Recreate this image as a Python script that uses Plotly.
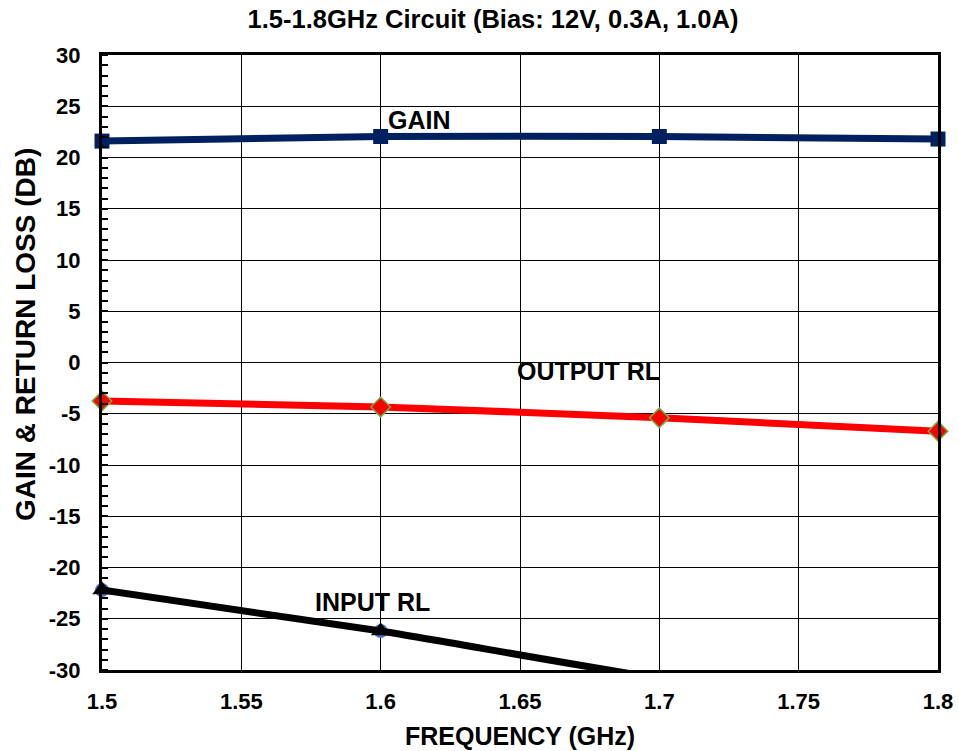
import plotly.graph_objects as go

freq = [1.5, 1.6, 1.7, 1.8]
gain = [21.6, 22.05, 22.05, 21.8]
output_rl = [-3.75, -4.35, -5.4, -6.7]
input_rl = [-22.2, -26.2, -30.8, -33.8]

title = "1.5-1.8GHz Circuit (Bias: 12V, 0.3A, 1.0A)"
x_title = "FREQUENCY (GHz)"
y_title = "GAIN & RETURN LOSS (DB)"
x_ticks = [1.5, 1.55, 1.6, 1.65, 1.7, 1.75, 1.8]
x_tick_text = ["1.5", "1.55", "1.6", "1.65", "1.7", "1.75", "1.8"]
y_ticks = [30, 25, 20, 15, 10, 5, 0, -5, -10, -15, -20, -25, -30]
y_tick_text = ["30", "25", "20", "15", "10", "5", "0", "-5", "-10", "-15", "-20", "-25", "-30"]

FONT = "Arial, Liberation Sans, sans-serif"
W, H = 959, 751
L, R, T, B = 102, 21, 55, 81
PW, PH = W - L - R, H - T - B
Y_MIN, Y_MAX = -30, 30

# markers only shown where the point lies inside the axis range
in_range = [1 if Y_MIN <= v <= Y_MAX else 0 for v in input_rl]

fig = go.Figure()

fig.add_trace(go.Scatter(
    x=freq, y=input_rl, mode="markers", name="INPUT RL (S11)",
    marker=dict(symbol="circle", size=14, color="#4472C4", opacity=in_range),
    cliponaxis=False, showlegend=False))
fig.add_trace(go.Scatter(
    x=freq, y=input_rl, mode="lines", name="INPUT RL",
    line=dict(color="black", width=7, shape="spline", smoothing=0.5),
    showlegend=False))
fig.add_trace(go.Scatter(
    x=freq, y=input_rl, mode="markers", name="INPUT RL markers",
    marker=dict(symbol="triangle-up", size=17, color="black", opacity=in_range),
    cliponaxis=False, showlegend=False))
fig.add_trace(go.Scatter(
    x=freq, y=output_rl, mode="lines+markers", name="OUTPUT RL",
    line=dict(color="#FF0000", width=7, shape="spline", smoothing=0.5),
    marker=dict(symbol="diamond", size=15, color="#FF0000",
                line=dict(color="#70AD47", width=1.5)),
    cliponaxis=False, showlegend=False))
fig.add_trace(go.Scatter(
    x=freq, y=gain, mode="lines+markers", name="GAIN",
    line=dict(color="#002060", width=7, shape="spline", smoothing=0.5),
    marker=dict(symbol="square", size=15, color="#002060"),
    cliponaxis=False, showlegend=False))

label_pos = {"GAIN": (1.6019, 23.66), "OUTPUT RL": (1.6482, -0.83), "INPUT RL": (1.5757, -23.37)}
for name, (lx, ly) in label_pos.items():
    fig.add_annotation(x=lx, y=ly, text="<b>%s</b>" % name, showarrow=False,
                       xanchor="left", yanchor="middle",
                       font=dict(family=FONT, size=25, color="black"))

# axis titles
fig.add_annotation(xref="paper", yref="paper", x=(520 - L) / PW, y=-(736 - (T + PH)) / PH,
                   text="<b>%s</b>" % x_title, showarrow=False,
                   xanchor="center", yanchor="middle",
                   font=dict(family=FONT, size=25, color="black"))
fig.add_annotation(xref="paper", yref="paper", x=(25 - L) / PW, y=((T + PH) - 335) / PH,
                   text="<b>%s</b>" % y_title, showarrow=False, textangle=-90,
                   xanchor="center", yanchor="middle",
                   font=dict(family=FONT, size=28, color="black"))

fig.update_layout(
    width=W, height=H,
    margin=dict(l=L, r=R, t=T, b=B),
    paper_bgcolor="white", plot_bgcolor="white",
    title=dict(text="<b>%s</b>" % title, x=493 / W, xanchor="center",
               xref="container", yref="container",
               y=1 - 19 / H, yanchor="middle",
               font=dict(family=FONT, size=25.5, color="black")),
    font=dict(family=FONT, color="black"),
)
fig.update_xaxes(
    range=[1.5, 1.8], tickvals=x_ticks, ticktext=["<b>%s</b>" % t for t in x_tick_text],
    showgrid=True, gridcolor="black", gridwidth=1,
    showline=True, linecolor="black", linewidth=3, mirror=True,
    ticks="", tickfont=dict(family=FONT, size=22), ticklabelstandoff=10,
    automargin=False, zeroline=False,
)
fig.update_yaxes(
    range=[Y_MIN, Y_MAX], tickvals=y_ticks, ticktext=["<b>%s</b>" % t for t in y_tick_text],
    showgrid=True, gridcolor="black", gridwidth=1,
    showline=True, linecolor="black", linewidth=3, mirror=True,
    ticks="", tickfont=dict(family=FONT, size=22), ticklabelstandoff=14,
    minor=dict(ticks="inside", dtick=1, ticklen=6, tickcolor="black", tickwidth=2, showgrid=False),
    automargin=False, zeroline=False,
)

fig.write_html("out.html", config={"displayModeBar": False},
               post_script="document.body.style.margin='0';")
